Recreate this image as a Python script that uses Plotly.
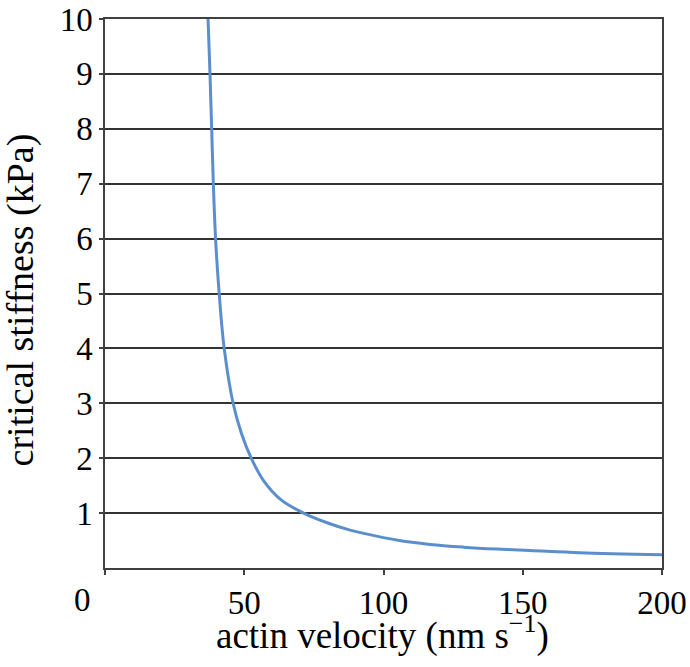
import plotly.graph_objects as go

# actin velocity (nm/s) vs critical stiffness (kPa)
velocity = [37.0, 37.7, 38.3, 38.9, 39.7, 41.0, 42.8, 46.0, 49.0, 52.5, 56.8,
            63.0, 71.3, 80.0, 88.0, 93.0, 104.7, 116.7, 128.7, 140.6, 152.6,
            170.5, 200.0]
stiffness = [10.0, 9.0, 8.0, 7.0, 6.0, 5.0, 4.0, 3.0, 2.45, 2.0, 1.60,
             1.25, 1.0, 0.82, 0.69, 0.63, 0.51, 0.43, 0.38, 0.345, 0.32,
             0.28, 0.24]

x_ticks = [0, 50, 100, 150, 200]
x_ticktext = ["", "50", "100", "150", "200"]
y_ticks = [1, 2, 3, 4, 5, 6, 7, 8, 9, 10]

font = "Liberation Serif, Times New Roman, serif"
axis_col = "#404040"

fig = go.Figure()
fig.add_trace(go.Scatter(
    x=velocity, y=stiffness, mode="lines",
    line=dict(color="#5b8fcc", width=3, shape="spline", smoothing=1.0),
    hoverinfo="skip", showlegend=False,
))

fig.update_layout(
    width=690, height=667,
    margin=dict(l=105, r=28, t=19, b=99),
    paper_bgcolor="white", plot_bgcolor="white",
    font=dict(family=font, size=31, color="black"),
    xaxis=dict(
        range=[0, 200], tickvals=x_ticks, ticktext=x_ticktext,
        tickfont=dict(size=33), automargin=False, ticklabeloverflow="allow",
        showgrid=False, zeroline=False,
        showline=True, linecolor=axis_col, linewidth=1.5, mirror=True,
        ticks="outside", ticklen=5, tickcolor=axis_col, tickwidth=1.5,
    ),
    yaxis=dict(
        range=[0, 10], tickvals=y_ticks,
        tickfont=dict(size=33), automargin=False, ticklabeloverflow="allow",
        showgrid=True, gridcolor="#333333", gridwidth=1.5, zeroline=False,
        showline=True, linecolor=axis_col, linewidth=1.5, mirror=True,
        ticks="outside", ticklen=4, tickcolor=axis_col, tickwidth=1.5,
    ),
)

# the "0" label sits left of the origin in the original
fig.add_annotation(x=-0.041, y=-0.022, xref="paper", yref="paper", text="0",
                   showarrow=False, xanchor="center", yanchor="top",
                   font=dict(size=33))
fig.add_annotation(x=0.499, y=-0.118, xref="paper", yref="paper",
                   text="actin velocity (nm s<sup>\u22121</sup>)",
                   showarrow=False, xanchor="center", yanchor="middle",
                   font=dict(size=37))
fig.add_annotation(x=-0.152, y=0.488, xref="paper", yref="paper",
                   text="critical stiffness (kPa)", textangle=-90,
                   showarrow=False, xanchor="center", yanchor="middle",
                   font=dict(size=38))

# drop the default body margin so the figure sits at the window corner
fig.write_html("out.html", config={"displayModeBar": False},
               post_script="document.body.style.margin='0';")
